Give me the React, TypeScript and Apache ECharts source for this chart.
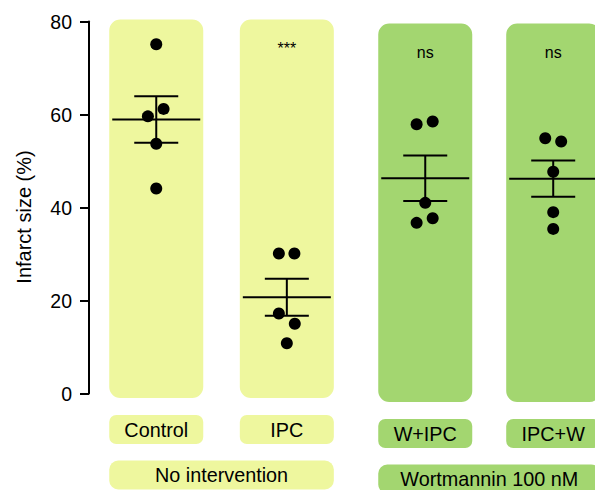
import React, { useEffect, useRef } from 'react';
import * as echarts from 'echarts';

// ---- data ----
const groups = ['Control', 'IPC', 'W+IPC', 'IPC+W'];
const conditions = ['No intervention', 'Wortmannin 100 nM'];
const groupCondition = [0, 0, 1, 1];
const significance = ['', '***', 'ns', 'ns'];
const controlValues = [75.1, 61.2, 59.6, 53.7, 44.1];
const ipcValues = [30.1, 30.1, 17.2, 15.0, 10.8];
const wIpcValues = [57.9, 58.5, 41.0, 36.7, 37.7];
const ipcWValues = [54.9, 54.2, 47.7, 39.0, 35.4];
const jitter = [
  [0, 0.056, -0.064, 0, 0],
  [-0.061, 0.058, -0.061, 0.061, 0],
  [-0.066, 0.057, 0, -0.066, 0.057],
  [-0.061, 0.061, 0, 0, 0],
];
const means = [58.9, 20.7, 46.3, 46.2];
const sems = [5.0, 4.0, 4.9, 3.9];
const yTicks = [0, 20, 40, 60, 80];

// ---- layout / style constants ----
const groupPos = [0, 1, 2.06, 3.04];
const conditionShift = [0, 4];
const conditionColors = ['#eef79e', '#a3d670'];
const FONT = 'Liberation Sans, Arial, Helvetica, sans-serif';
const PANEL_W = 94;
const LABEL_SIZE = 19.8;

export default function App() {
  const ref = useRef<HTMLDivElement>(null);
  useEffect(() => {
    if (!ref.current) return;
    const chart = echarts.init(ref.current, undefined, { renderer: 'svg' });
    const allValues = [controlValues, ipcValues, wIpcValues, ipcWValues];
    const dots: number[][] = [];
    allValues.forEach((vals, g) => {
      vals.forEach((v, k) => dots.push([groupPos[g] + jitter[g][k], v]));
    });
    const groupData = groups.map((_, i) => [i, 0]);
    const condData = conditions.map((_, i) => [i, 0]);

    chart.setOption({
      animation: false,
      grid: { left: 89, right: 0, top: 21.5, bottom: 96.5, containLabel: false },
      xAxis: { type: 'value', min: -0.515, max: 3.36, show: false },
      yAxis: {
        type: 'value',
        min: yTicks[0],
        max: yTicks[yTicks.length - 1],
        interval: 20,
        axisLine: { show: true, onZero: false, lineStyle: { color: '#000', width: 2 } },
        axisTick: { show: true, length: 9, lineStyle: { color: '#000', width: 2 } },
        axisLabel: { fontSize: 19.5, color: '#000', margin: 17, fontFamily: FONT },
        splitLine: { show: false },
      },
      graphic: [
        {
          type: 'text',
          x: 24,
          y: 217,
          rotation: Math.PI / 2,
          style: {
            text: 'Infarct size (%)',
            fontSize: 20,
            fontFamily: FONT,
            fill: '#000',
            align: 'center',
            verticalAlign: 'middle',
          },
        },
      ],
      series: [
        {
          type: 'custom',
          z: 1,
          silent: true,
          data: groupData,
          renderItem: (params: any, api: any) => {
            const g = api.value(0);
            const c = groupCondition[g];
            const s = conditionShift[c];
            const [cx, yTop] = api.coord([groupPos[g], 80]);
            const [, y0] = api.coord([groupPos[g], 0]);
            const top = yTop - 2 + s;
            const bot = y0 + 4.5 + s;
            return {
              type: 'group',
              children: [
                {
                  type: 'rect',
                  shape: { x: cx - PANEL_W / 2, y: top, width: PANEL_W, height: bot - top, r: 11 },
                  style: { fill: conditionColors[c] },
                },
                {
                  type: 'rect',
                  shape: { x: cx - PANEL_W / 2, y: y0 + 21.5 + s, width: PANEL_W, height: 29, r: 7 },
                  style: { fill: conditionColors[c] },
                },
                {
                  type: 'text',
                  x: cx,
                  y: y0 + 36 + s,
                  style: {
                    text: groups[g],
                    fontSize: LABEL_SIZE,
                    fontFamily: FONT,
                    fill: '#000',
                    align: 'center',
                    verticalAlign: 'middle',
                  },
                },
                {
                  type: 'text',
                  x: cx,
                  y: yTop + 27 + s,
                  style: {
                    text: significance[g],
                    fontSize: 16,
                    fontFamily: FONT,
                    fill: '#000',
                    align: 'center',
                    verticalAlign: 'middle',
                  },
                },
              ],
            };
          },
        },
        {
          type: 'custom',
          z: 1,
          silent: true,
          data: condData,
          renderItem: (params: any, api: any) => {
            const c = api.value(0);
            const s = conditionShift[c];
            const idx = groupCondition.map((v, i) => (v === c ? i : -1)).filter((i) => i >= 0);
            const [x1, y0] = api.coord([groupPos[idx[0]], 0]);
            const [x2] = api.coord([groupPos[idx[idx.length - 1]], 0]);
            const left = x1 - PANEL_W / 2;
            const right = x2 + PANEL_W / 2;
            return {
              type: 'group',
              children: [
                {
                  type: 'rect',
                  shape: { x: left, y: y0 + 67 + s, width: right - left, height: 29, r: 9 },
                  style: { fill: conditionColors[c] },
                },
                {
                  type: 'text',
                  x: (left + right) / 2,
                  y: y0 + 81.5 + s,
                  style: {
                    text: conditions[c],
                    fontSize: LABEL_SIZE,
                    fontFamily: FONT,
                    fill: '#000',
                    align: 'center',
                    verticalAlign: 'middle',
                  },
                },
              ],
            };
          },
        },
        {
          type: 'custom',
          z: 3,
          silent: true,
          data: groupData,
          renderItem: (params: any, api: any) => {
            const g = api.value(0);
            const [cx, ym] = api.coord([groupPos[g], means[g]]);
            const [, yu] = api.coord([groupPos[g], means[g] + sems[g]]);
            const [, yl] = api.coord([groupPos[g], means[g] - sems[g]]);
            const st = { stroke: '#000', lineWidth: 2 };
            return {
              type: 'group',
              children: [
                { type: 'line', shape: { x1: cx - 44, y1: ym, x2: cx + 44, y2: ym }, style: st },
                { type: 'line', shape: { x1: cx, y1: yu, x2: cx, y2: yl }, style: st },
                { type: 'line', shape: { x1: cx - 22, y1: yu, x2: cx + 22, y2: yu }, style: st },
                { type: 'line', shape: { x1: cx - 22, y1: yl, x2: cx + 22, y2: yl }, style: st },
              ],
            };
          },
        },
        {
          type: 'scatter',
          z: 4,
          data: dots,
          symbol: 'circle',
          symbolSize: 12,
          itemStyle: { color: '#000', opacity: 1 },
          silent: true,
        },
      ],
    });
    return () => chart.dispose();
  }, []);
  return (
    <div
      ref={ref}
      style={{ position: 'absolute', left: 0, top: 0, width: 595, height: 490 }}
    />
  );
}
